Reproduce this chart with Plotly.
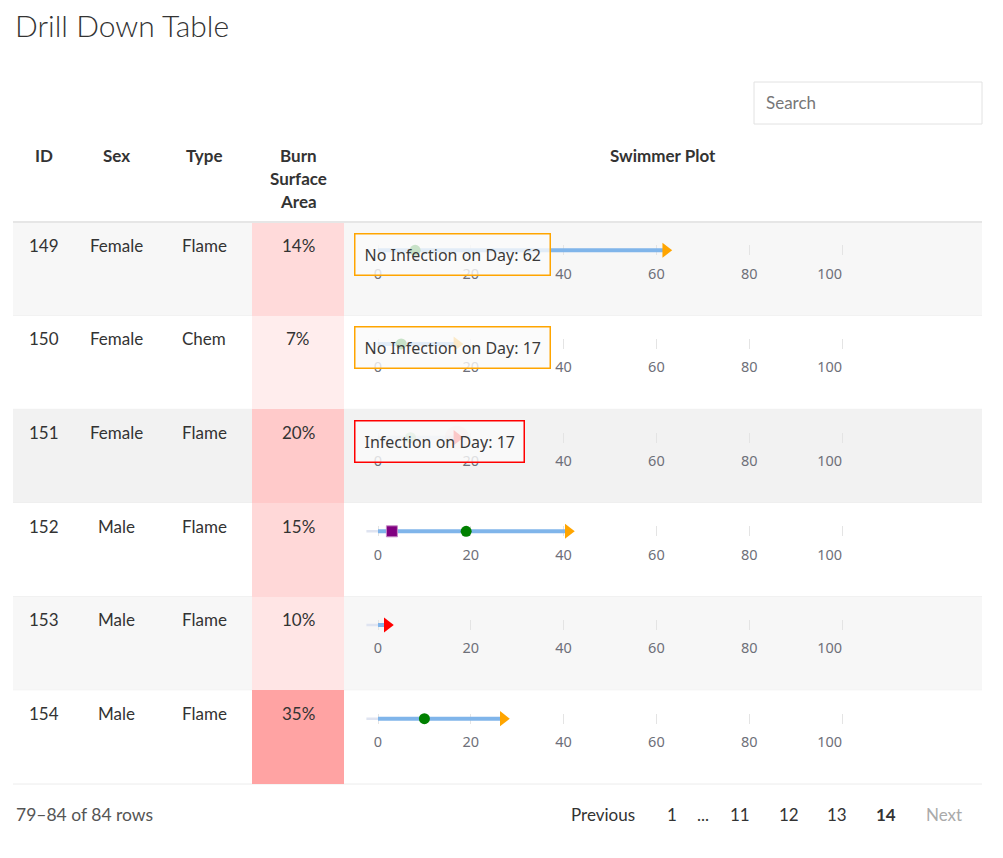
import plotly.graph_objects as go

W, H = 1003, 858

# rows 79-84 of the drill down table
patient_id = [149, 150, 151, 152, 153, 154]
sex = ["Female", "Female", "Female", "Male", "Male", "Male"]
burn_type = ["Flame", "Chem", "Flame", "Flame", "Flame", "Flame"]
burn_area = [14, 7, 20, 15, 10, 35]

# swimmer plot values (days)
start_day = [-2.5, -2.5, -2.5, -2.5, -2.5, -2.5]
end_day = [62, 17, 17, 41, 2, 27]
infection = [0, 0, 1, 0, 1, 0]
excision_day = [8, 5, 7, 19, None, 10]
antibiotic_day = [None, None, None, 3, None, None]
tooltip_shown = [True, True, True, False, False, False]

tick_vals = [0, 20, 40, 60, 80, 100]
tick_text = ["0", "20", "40", "60", "80", "100\u2007\u2007\u2007"]

headers = ["ID", "Sex", "Type", "Burn Surface Area", "Swimmer Plot"]
page_info = "79\u201384 of 84 rows"
pages = ["Previous", "1", "...", "11", "12", "13", "14", "Next"]

# the page body adds an 8px margin round the figure
OFF = 8


def fx(px):
    return (px - OFF) / W


def fy(px):
    return 1 - (px - OFF) / H


FONT = "Lato, 'Source Sans Pro', sans-serif"
AX_FONT = "'Noto Sans', 'DejaVu Sans', sans-serif"
TXT = "#333333"

# layout in pixels (screen coordinates)
TABLE_L, TABLE_R = 13, 982
ROW_TOP, ROW_BOT = 222, 784
ROW_H = (ROW_BOT - ROW_TOP) / len(patient_id)
col_x = [44, 116, 204, 298, 663]
BURN_L, BURN_R = 252, 344
ZERO_PX, PX_PER_DAY = 378, 4.64
XMIN, XMAX = -7, 120
row_fill = ["#f7f7f7", "#ffffff", "#f2f2f2", "#ffffff", "#f7f7f7", "#ffffff"]
focus_row = 2

BAR = "#80b5ea"
LEAD = "#dfe4f1"

fig = go.Figure()
shapes = []
annotations = []

swim_dom = [fx(ZERO_PX + XMIN * PX_PER_DAY), fx(ZERO_PX + XMAX * PX_PER_DAY)]

for i in range(len(patient_id)):
    n = i + 1
    xa, ya = ("x" if n == 1 else f"x{n}"), ("y" if n == 1 else f"y{n}")
    top = ROW_TOP + i * ROW_H
    line_y = top + 28.3
    blur = 0.25 if i == focus_row else 1.0

    fig.add_trace(go.Scatter(x=[start_day[i], 0], y=[0, 0], mode="lines",
                             line=dict(color=LEAD, width=2.5), opacity=blur,
                             xaxis=xa, yaxis=ya, hoverinfo="skip", cliponaxis=False))
    fig.add_trace(go.Scatter(x=[0, end_day[i]], y=[0, 0], mode="lines",
                             line=dict(color=BAR, width=4), opacity=blur,
                             xaxis=xa, yaxis=ya, hoverinfo="skip", cliponaxis=False))
    if excision_day[i] is not None:
        fig.add_trace(go.Scatter(x=[excision_day[i]], y=[0], mode="markers",
                                 marker=dict(color="green", size=11),
                                 opacity=0.3 if i == focus_row else 1.0,
                                 xaxis=xa, yaxis=ya, hoverinfo="skip", cliponaxis=False))
    if antibiotic_day[i] is not None:
        fig.add_trace(go.Scatter(x=[antibiotic_day[i]], y=[0], mode="markers",
                                 marker=dict(color="purple", size=11, symbol="square",
                                             line=dict(color="#c58ac5", width=1)),
                                 xaxis=xa, yaxis=ya, hoverinfo="skip", cliponaxis=False))
    end_col = "red" if infection[i] else "orange"
    if i == focus_row:
        fig.add_trace(go.Scatter(x=[end_day[i]], y=[0], mode="markers",
                                 marker=dict(color="rgba(255,0,0,0.10)", size=24),
                                 xaxis=xa, yaxis=ya, hoverinfo="skip", cliponaxis=False))
    fig.add_trace(go.Scatter(x=[end_day[i]], y=[0], mode="markers",
                             marker=dict(color=end_col, size=13, symbol="triangle-right"),
                             xaxis=xa, yaxis=ya, hoverinfo="skip", cliponaxis=False))

    fig.layout[f"xaxis{n if n > 1 else ''}"] = dict(
        domain=swim_dom, range=[XMIN, XMAX], anchor=ya,
        tickvals=tick_vals, ticktext=tick_text,
        showgrid=True, gridcolor="#e4e4e4", gridwidth=1.3,
        zeroline=False, showline=False,
        ticks="outside", ticklen=5, tickcolor="rgba(0,0,0,0)",
        tickfont=dict(family=AX_FONT, size=14.5, color="#6e7079"),
        fixedrange=True)
    fig.layout[f"yaxis{n if n > 1 else ''}"] = dict(
        domain=[fy(line_y + 5), fy(line_y - 5)], range=[-1, 1], anchor=xa,
        visible=False, fixedrange=True)

    # row stripe + separator
    shapes.append(dict(type="rect", xref="paper", yref="paper", layer="below",
                       x0=fx(TABLE_L), x1=fx(TABLE_R), y0=fy(top + ROW_H), y1=fy(top),
                       fillcolor=row_fill[i], line=dict(width=0)))
    shapes.append(dict(type="line", xref="paper", yref="paper", layer="below",
                       x0=fx(TABLE_L), x1=fx(TABLE_R), y0=fy(top + ROW_H), y1=fy(top + ROW_H),
                       line=dict(color="#ececec", width=1)))

    # cell text
    cells = [str(patient_id[i]), sex[i], burn_type[i], f"{burn_area[i]}%"]
    for c, txt in enumerate(cells):
        annotations.append(dict(x=fx(col_x[c]), y=fy(top + 23), xref="paper", yref="paper",
                                text=txt, showarrow=False, xanchor="center", yanchor="middle",
                                font=dict(family=FONT, size=17, color=TXT)))

    if tooltip_shown[i]:
        label = ("Infection" if infection[i] else "No Infection") + f" on Day: {end_day[i]}"
        annotations.append(dict(x=fx(354), y=fy(line_y + 4), xref="paper", yref="paper",
                                text=label, showarrow=False, xanchor="left", yanchor="middle",
                                font=dict(family=AX_FONT, size=16, color="#3a3a3a"),
                                bgcolor="rgba(250,250,250,0.8)", bordercolor=end_col,
                                borderwidth=1.5, borderpad=9))

# burn surface area colour column
fig.add_trace(go.Heatmap(
    z=[[v] for v in burn_area], x=["burn"], y=[str(p) for p in patient_id],
    colorscale=[[0, "#ffffff"], [1, "#ffa3a3"]], zmin=0, zmax=max(burn_area),
    showscale=False, hoverinfo="skip", xaxis="x7", yaxis="y7"))
fig.layout["xaxis7"] = dict(domain=[fx(BURN_L), fx(BURN_R)], anchor="y7", visible=False,
                            fixedrange=True)
fig.layout["yaxis7"] = dict(domain=[fy(ROW_BOT), fy(ROW_TOP)], anchor="x7", visible=False,
                            type="category", autorange="reversed", fixedrange=True)

# header
for c, h in enumerate(headers):
    words = h.split(" ") if c == 3 else [h]
    for k, w in enumerate(words):
        annotations.append(dict(x=fx(col_x[c]), y=fy(155 + 23 * k), xref="paper", yref="paper",
                                text=f"<b>{w}</b>", showarrow=False, xanchor="center",
                                yanchor="middle", font=dict(family=FONT, size=17, color=TXT)))
shapes.append(dict(type="line", xref="paper", yref="paper",
                   x0=fx(TABLE_L), x1=fx(TABLE_R), y0=fy(ROW_TOP), y1=fy(ROW_TOP),
                   line=dict(color="#e6e6e6", width=2)))

# title
annotations.append(dict(x=fx(13), y=fy(25), xref="paper", yref="paper", text="Drill Down Table",
                        showarrow=False, xanchor="left", yanchor="middle",
                        font=dict(family=FONT, size=30, color=TXT, weight=300)))

# search box
shapes.append(dict(type="rect", xref="paper", yref="paper",
                   x0=fx(754), x1=fx(982), y0=fy(124), y1=fy(82),
                   line=dict(color="#e2e2e2", width=1), fillcolor="white"))
annotations.append(dict(x=fx(764), y=fy(103), xref="paper", yref="paper", text="Search",
                        showarrow=False, xanchor="left", yanchor="middle",
                        font=dict(family=FONT, size=17, color="#777777")))

# footer
annotations.append(dict(x=fx(14), y=fy(814), xref="paper", yref="paper", text=page_info,
                        showarrow=False, xanchor="left", yanchor="middle",
                        font=dict(family=FONT, size=17.5, color="#555555")))
page_x = [603, 672, 703, 740, 789, 837, 886, 944]
for p, px in zip(pages, page_x):
    col = "#aaaaaa" if p == "Next" else TXT
    txt = f"<b>{p}</b>" if p == "14" else p
    annotations.append(dict(x=fx(px), y=fy(814), xref="paper", yref="paper", text=txt,
                            showarrow=False, xanchor="center", yanchor="middle",
                            font=dict(family=FONT, size=17, color=col)))

fig.update_layout(
    width=W, height=H, margin=dict(l=0, r=0, t=0, b=0),
    paper_bgcolor="white", plot_bgcolor="rgba(0,0,0,0)",
    showlegend=False, shapes=shapes, annotations=annotations,
)

fig.write_html("out.html")
